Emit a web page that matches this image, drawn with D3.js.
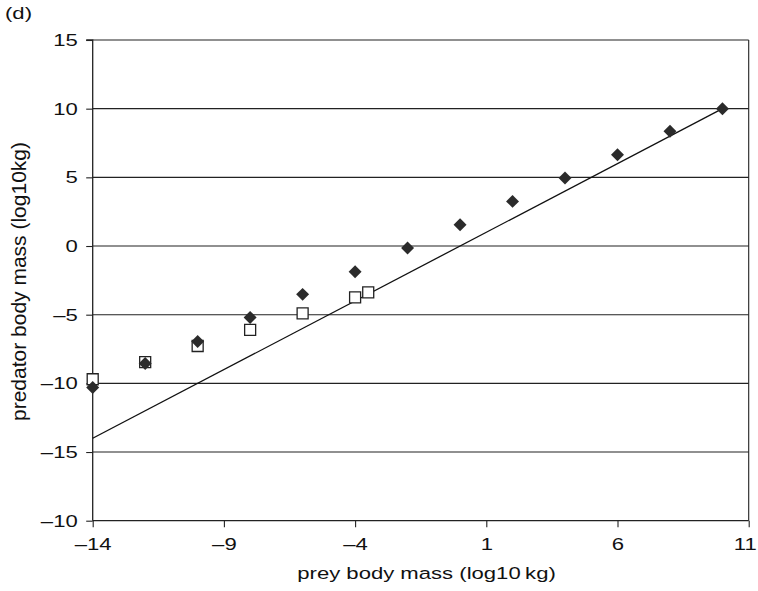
<!DOCTYPE html>
<html>
<head>
<meta charset="utf-8">
<script src="https://cdn.jsdelivr.net/npm/d3@7"></script>
<style>
  html, body { margin: 0; padding: 0; background: #fff; }
  svg { display: block; font-family: "Liberation Sans", Arial, Helvetica, sans-serif; }
</style>
</head>
<body>
<svg id="chart" width="758" height="591"></svg>
<script>
// Prey vs predator body mass, log10 kg
const preyMass     = [-14, -12, -10, -8, -6, -4, -2, 0, 2, 4, 6, 8, 10];
const predatorMass = [-10.3, -8.55, -6.95, -5.2, -3.52, -1.88, -0.15, 1.55, 3.25, 4.95, 6.65, 8.35, 10.0];

const preyMassOpen     = [-14, -12, -10, -8, -6, -4, -3.5];
const predatorMassOpen = [-9.7, -8.45, -7.28, -6.1, -4.9, -3.74, -3.37];

// 1:1 reference line
const lineX = [-14, 10];
const lineY = [-14, 10];

const xTicks = [-14, -9, -4, 1, 6, 11];
const xTickLabels = ["–14", "–9", "–4", "1", "6", "11"];
const yTicks = [-20, -15, -10, -5, 0, 5, 10, 15];
const yTickLabels = ["–10", "–15", "–10", "–5", "0", "5", "10", "15"];

const svg = d3.select("#chart");
const W = 758, H = 591;
const margin = { left: 92.7, right: W - 748.7, top: 40, bottom: H - 520.7 };

const x = d3.scaleLinear().domain([-14, 11]).range([margin.left, W - margin.right]);
const y = d3.scaleLinear().domain([-20, 15]).range([H - margin.bottom, margin.top]);

const ink = "#222";
const fontSize = 17;
const widen = 1.3;          // horizontal stretch of the lettering
const tickLen = 6.5;

// horizontal gridlines
svg.append("g")
  .selectAll("line")
  .data(yTicks.filter(v => v > -20))
  .join("line")
  .attr("x1", x(-14)).attr("x2", x(11))
  .attr("y1", d => y(d)).attr("y2", d => y(d))
  .attr("stroke", ink).attr("stroke-width", 1.1);

// right frame edge
svg.append("line")
  .attr("x1", x(11)).attr("x2", x(11))
  .attr("y1", y(15)).attr("y2", y(-20))
  .attr("stroke", ink).attr("stroke-width", 1.1);

// y axis
const yPad = 8.5;
const yAxis = d3.axisLeft(y)
  .tickValues(yTicks)
  .tickFormat((d, i) => yTickLabels[i])
  .tickSize(tickLen)
  .tickPadding(yPad);
const gy = svg.append("g").attr("transform", `translate(${x(-14)},0)`).call(yAxis);
gy.select(".domain").attr("stroke", ink).attr("stroke-width", 1.3).attr("d", `M${-tickLen},${y(15)}H0V${y(-20)}`);
gy.selectAll(".tick line").attr("stroke", ink).attr("stroke-width", 1.1);
gy.selectAll(".tick text")
  .attr("x", 0)
  .attr("transform", `translate(${-(tickLen + yPad)},0) scale(${widen},1)`)
  .attr("fill", "#111").style("font-size", fontSize + "px")
  .style("font-family", "'Liberation Sans', Arial, sans-serif");

// x axis
const xAxis = d3.axisBottom(x)
  .tickValues(xTicks)
  .tickFormat((d, i) => xTickLabels[i])
  .tickSize(tickLen)
  .tickPadding(11);
const gx = svg.append("g").attr("transform", `translate(0,${y(-20)})`).call(xAxis);
gx.select(".domain").attr("stroke", ink).attr("stroke-width", 1.3).attr("d", `M${x(-14)},0H${x(11)}`);
gx.selectAll(".tick line").attr("stroke", ink).attr("stroke-width", 1.1);
gx.selectAll(".tick text")
  // the last label sits at the page edge, nudge it inward a little
  .attr("transform", d => `translate(${d === 11 ? -4 : 0},0) scale(${widen},1)`)
  .attr("fill", "#111").style("font-size", fontSize + "px")
  .style("font-family", "'Liberation Sans', Arial, sans-serif");

// 1:1 line
svg.append("path")
  .datum(lineX.map((v, i) => [v, lineY[i]]))
  .attr("d", d3.line().x(d => x(d[0])).y(d => y(d[1])))
  .attr("fill", "none").attr("stroke", "#111").attr("stroke-width", 1.3);

// open squares
const openData = preyMassOpen.map((v, i) => [v, predatorMassOpen[i]]);
svg.append("g")
  .selectAll("path")
  .data(openData)
  .join("path")
  .attr("d", d3.symbol(d3.symbolSquare, 121)())
  .attr("transform", d => `translate(${x(d[0])},${y(d[1])})`)
  .attr("fill", "#fff").attr("stroke", "#222").attr("stroke-width", 1.3);

// filled diamonds
const fillData = preyMass.map((v, i) => [v, predatorMass[i]]);
svg.append("g")
  .selectAll("path")
  .data(fillData)
  .join("path")
  .attr("d", d3.symbol(d3.symbolSquare, 84)())
  .attr("transform", d => `translate(${x(d[0])},${y(d[1])}) rotate(45)`)
  .attr("fill", "#2b2b2b");

// axis titles
svg.append("text")
  .attr("transform", `translate(426.5,579) scale(${widen},1)`)
  .attr("text-anchor", "middle")
  .style("font-size", fontSize + "px").attr("fill", "#111")
  .text("prey body mass (log10\u2009kg)");

svg.append("text")
  .attr("transform", `translate(26,281.5) rotate(-90)`)
  .attr("text-anchor", "middle")
  .style("font-size", "21px").attr("fill", "#111")
  .text("predator body mass (log10kg)");

// panel letter
svg.append("text")
  .attr("transform", `translate(5,18.5) scale(${widen},1)`)
  .style("font-size", fontSize + "px").attr("fill", "#111")
  .text("(d)");
</script>
</body>
</html>
